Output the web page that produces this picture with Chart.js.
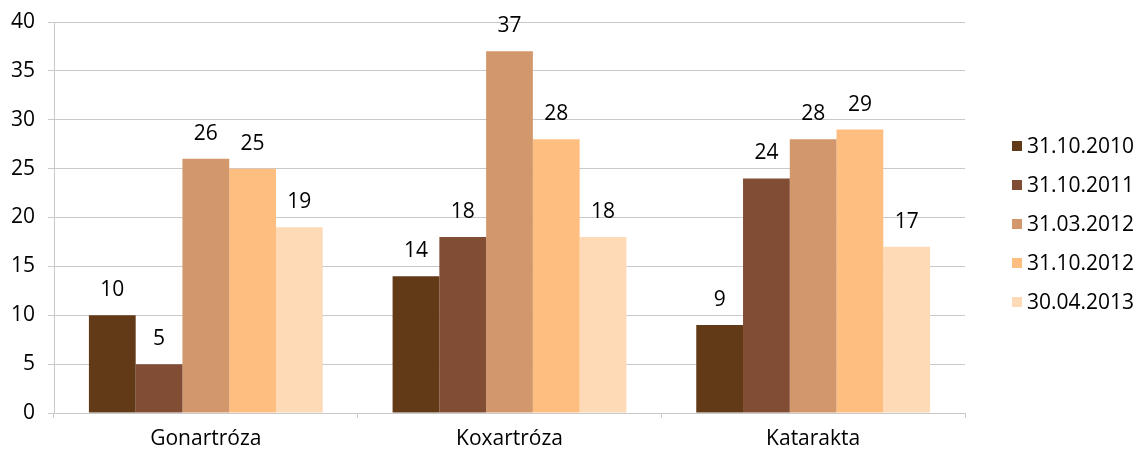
<!DOCTYPE html>
<html>
<head>
<meta charset="utf-8">
<script src="https://cdn.jsdelivr.net/npm/chart.js@4"></script>
<style>
    html, body { margin: 0; padding: 0; background: #fff; }
    #wrap { width: 1137px; height: 450px; }
</style>
</head>
<body>
<div id="wrap"><canvas id="chart" width="1137" height="450"></canvas></div>
<script>
const categories = ["Gonartróza", "Koxartróza", "Katarakta"];
const series_labels = ["31.10.2010", "31.10.2011", "31.03.2012", "31.10.2012", "30.04.2013"];
const series_colors = ["#633a18", "#824d35", "#d3976c", "#fdbe7f", "#fedab7"];
const values_2010_10 = [10, 14, 9];
const values_2011_10 = [5, 18, 24];
const values_2012_03 = [26, 37, 28];
const values_2012_10 = [25, 28, 29];
const values_2013_04 = [19, 18, 17];
const y_ticks = [0, 5, 10, 15, 20, 25, 30, 35, 40];

const series_values = [values_2010_10, values_2011_10, values_2012_03, values_2012_10, values_2013_04];
const font_family = "'Open Sans', sans-serif";
const font_size = 21;
const grid_color = "#c9c9c9";

// values drawn above each bar
const value_labels = {
    id: 'value_labels',
    afterDatasetsDraw(chart) {
        const ctx = chart.ctx;
        ctx.save();
        ctx.font = font_size + "px " + font_family;
        ctx.fillStyle = "#000";
        ctx.textAlign = "center";
        ctx.textBaseline = "middle";
        chart.data.datasets.forEach((ds, i) => {
            chart.getDatasetMeta(i).data.forEach((bar, j) => {
                ctx.fillText(ds.data[j], bar.x, bar.y - 25);
            });
        });
        ctx.restore();
    }
};

// legend at the right, square markers
const side_legend = {
    id: 'side_legend',
    afterDraw(chart) {
        const ctx = chart.ctx;
        ctx.save();
        ctx.font = font_size + "px " + font_family;
        ctx.textAlign = "left";
        ctx.textBaseline = "middle";
        const n = chart.data.datasets.length;
        const step = 39;
        const mid = 224;
        chart.data.datasets.forEach((ds, i) => {
            const y = mid + (i - (n - 1) / 2) * step;
            ctx.fillStyle = ds.backgroundColor;
            ctx.fillRect(1012, y - 5, 10, 10);
            ctx.fillStyle = "#000";
            ctx.fillText(ds.label, 1027, y + 1);
        });
        ctx.restore();
    }
};

new Chart(document.getElementById('chart'), {
    type: 'bar',
    data: {
        labels: categories,
        datasets: series_labels.map((label, i) => ({
            label: label,
            data: series_values[i],
            backgroundColor: series_colors[i],
            borderWidth: 0,
            categoryPercentage: 0.77,
            barPercentage: 1.0
        }))
    },
    options: {
        responsive: false,
        animation: false,
        layout: {
            padding: { top: 22, right: 172, left: 0, bottom: 0 }
        },
        plugins: {
            legend: { display: false },
            tooltip: { enabled: false }
        },
        scales: {
            x: {
                afterFit: (scale) => {
                    scale.height = 37;
                    scale.paddingLeft = 0;
                    scale.paddingRight = 0;
                },
                grid: {
                    offset: true,
                    drawOnChartArea: false,
                    drawTicks: true,
                    tickLength: 5,
                    color: grid_color
                },
                border: { color: grid_color, width: 1 },
                ticks: {
                    color: "#000",
                    padding: 8,
                    font: { family: font_family, size: font_size }
                }
            },
            y: {
                min: 0,
                max: 40,
                afterFit: (scale) => {
                    scale.width = 54;
                    scale.paddingTop = 0;
                    scale.paddingBottom = 0;
                },
                afterBuildTicks: (scale) => { scale.ticks = y_ticks.map(v => ({ value: v })); },
                grid: {
                    color: grid_color,
                    tickLength: 6
                },
                border: { color: grid_color, width: 1 },
                ticks: {
                    color: "#000",
                    padding: 13,
                    font: { family: font_family, size: font_size }
                }
            }
        }
    },
    plugins: [value_labels, side_legend]
});
</script>
</body>
</html>
